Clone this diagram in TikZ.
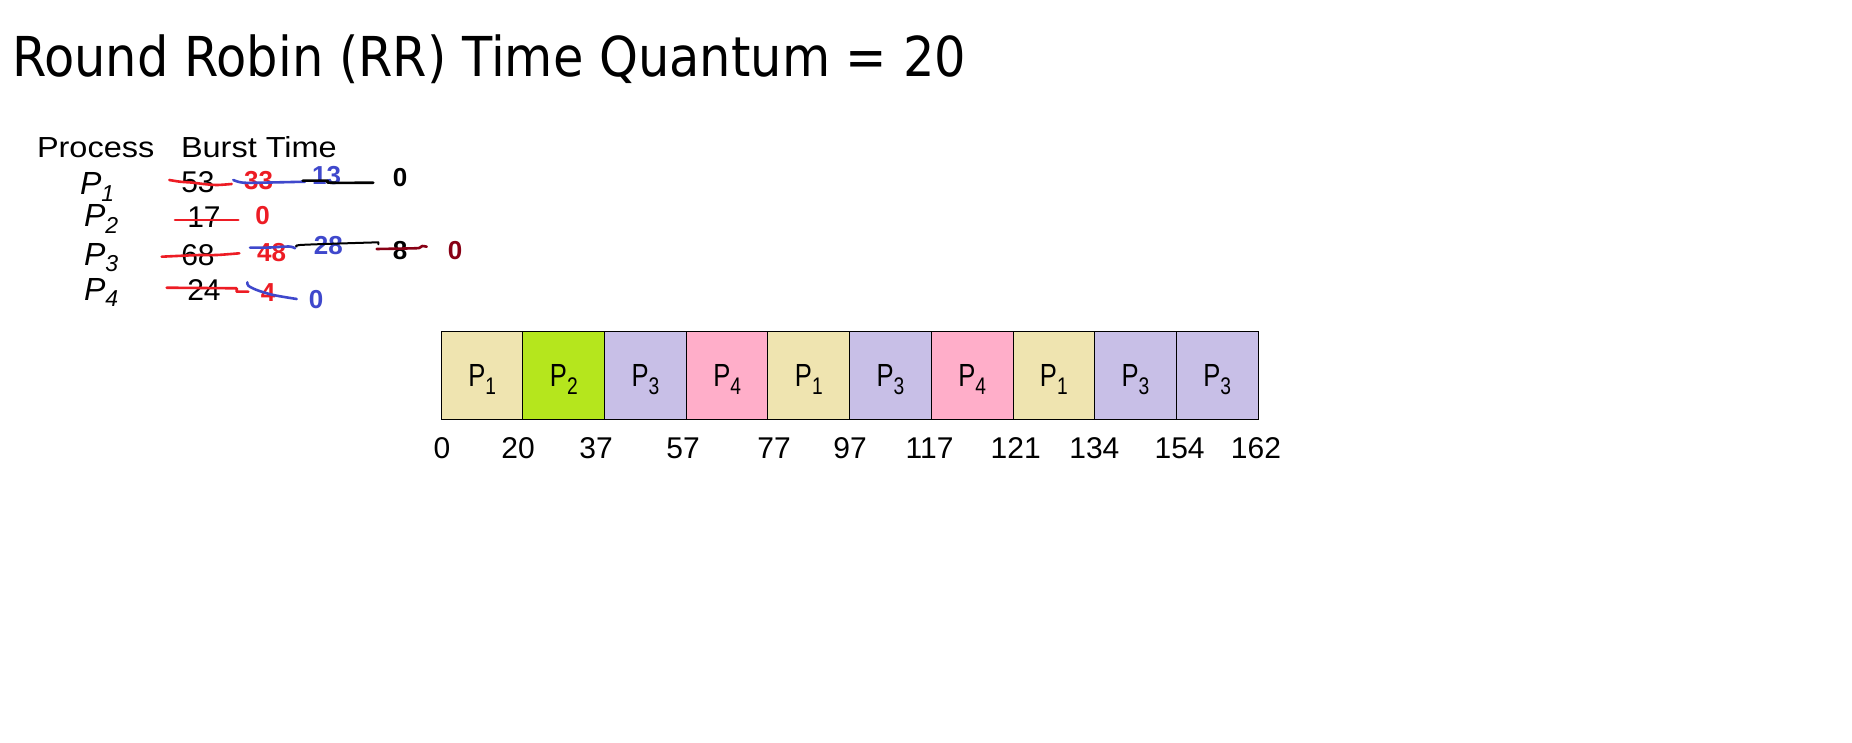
\documentclass[tikz,border=0pt]{standalone}
\usepackage{fontspec}
\setmainfont{Liberation Sans}
\newfontfamily\titlefont[FakeStretch=0.9]{DejaVu Sans}
\newfontfamily\hdrfont[FakeStretch=1.12]{Liberation Sans}
\newfontfamily\narrowfont[FakeStretch=0.8]{Liberation Sans}
\definecolor{pa}{HTML}{EFE4B0}
\definecolor{pb}{HTML}{B5E61D}
\definecolor{pc}{HTML}{C8BFE7}
\definecolor{pd}{HTML}{FFAEC9}
\definecolor{mred}{HTML}{ED1C24}
\definecolor{mblue}{HTML}{3F48CC}
\definecolor{mdred}{HTML}{880015}
\tikzset{
  txt/.style={inner sep=0pt, outer sep=0pt, anchor=base},
  num/.style={txt, font=\fontsize{15}{18}\selectfont},
  bnum/.style={txt, font=\fontsize{13}{16}\selectfont\bfseries},
  plabel/.style={txt, anchor=base west, font=\fontsize{16}{18}\selectfont\itshape},
  hdr/.style={txt, anchor=base west, font=\hdrfont\fontsize{14.5}{17}\selectfont},
  cell/.style={draw=black, line width=0.5pt, minimum width=40.835pt, minimum height=43.65pt, inner sep=0pt, outer sep=0pt},
  gtxt/.style={txt, font=\narrowfont\fontsize{16}{18}\selectfont},
  tlabel/.style={txt, font=\fontsize{15}{18}\selectfont},
  strike/.style={line width=1.3pt, line cap=round, line join=round},
}
\newcommand{\psub}[2]{P\raisebox{-3.3pt}{\fontsize{11.5}{12}\selectfont #2}}
\newcommand{\gsub}[1]{P\raisebox{-3.7pt}{\fontsize{12}{12}\selectfont #1}}
\begin{document}
\begin{tikzpicture}[x=0.5pt, y=-0.5pt]
\useasboundingbox (0,0) rectangle (1852,743);
\fill[white] (0,0) rectangle (1852,743);

% title
\node[txt, anchor=base west, font=\titlefont\fontsize{27.5}{30}\selectfont] (title) at (12,77) {Round Robin (RR) Time Quantum = 20};

% header
\node[hdr] (hproc) at (37,158) {Process};
\node[hdr] (hburst) at (181,158) {Burst Time};

% process labels
\node[plabel] (p1) at (80,195) {\psub{}{1}};
\node[plabel] (p2) at (84,227) {\psub{}{2}};
\node[plabel] (p3) at (84,265) {\psub{}{3}};
\node[plabel] (p4) at (84,300) {\psub{}{4}};

% original burst times
\node[num] (b1) at (198,193) {53};
\node[num] (b2) at (204,228) {17};
\node[num] (b3) at (198,265) {68};
\node[num] (b4) at (204,300) {24};

% remaining times
\node[bnum, mred] (r1a) at (258.7,190) {33};
\node[bnum, mred] (r2a) at (262.5,225) {0};
\node[bnum, mred] (r3a) at (271.7,261.7) {48};
\node[bnum, mred] (r4a) at (268,301.7) {4};
\node[bnum, mblue] (r1b) at (326.7,185) {13};
\node[bnum, mblue] (r3b) at (328.3,255) {28};
\node[bnum, mblue] (r4b) at (316,308.3) {0};
\node[bnum, black] (r1c) at (400,186.7) {0};
\node[bnum, black] (r3c) at (400,260) {8};
\node[bnum, mdred] (r3d) at (455,260) {0};

% strike-through marks
\draw[strike, mred] plot[smooth] coordinates {(169.3,180) (180,181.7) (193.3,182.7) (203.3,184) (216.7,185) (231.7,184)};
\draw[strike, mblue] plot[smooth] coordinates {(233.3,180) (243.3,182.7) (270,182.5) (305,181.7)};
\draw[strike, black] plot[smooth] coordinates {(302.7,180.7) (326.7,180.7) (330,182.7) (373.3,182.7)};
\draw[strike, mred] (175,220) -- (238.3,220);
\draw[strike, mred] plot[smooth] coordinates {(161.7,256.7) (183,255.7) (200,255) (217,255) (239.3,253.3)};
\draw[strike, mblue] plot[smooth] coordinates {(250,247.7) (270,247.5) (289,246.5) (295,248.3)};
\draw[strike, black, line width=1pt] plot[smooth] coordinates {(296.7,246.7) (300,245) (340,243.5) (378.3,242.3)} -- (378.3,244.3);
\draw[strike, mdred] plot[smooth] coordinates {(376.7,249) (405,248.5) (419,248) (422,246) (426.7,246.7)};
\draw[strike, mred] (166.7,287.7) -- (236.7,288.3) -- (236.7,291.7) -- (248.3,291.7);
\draw[strike, mblue] plot[smooth] coordinates {(247.3,282.3) (248.3,285.7) (256.7,290) (273.3,295) (296.7,299)};

% Gantt chart
\foreach \i/\c/\p in {1/pa/1,2/pb/2,3/pc/3,4/pd/4,5/pa/1,6/pc/3,7/pd/4,8/pa/1,9/pc/3,10/pc/3}{
  \node[cell, fill=\c] (g\i) at ({441.3+81.67*(\i-0.5)},375.35) {};
  \node[gtxt] (gl\i) at ({441.3+81.67*(\i-0.5)},386.7) {\gsub{\p}};
}

% time labels
\foreach \x/\t [count=\k] in {442/0,518/20,596/37,683/57,774/77,850/97,929.6/117,1015.7/121,1094.4/134,1179.6/154,1256/162}{
  \node[tlabel] (t\k) at (\x,458.3) {\t};
}
\end{tikzpicture}
\end{document}
